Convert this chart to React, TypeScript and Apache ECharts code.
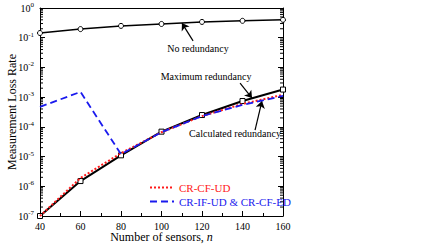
import React, { useEffect, useRef } from "react";
import * as echarts from "echarts";

const sensors = [40, 60, 80, 100, 120, 140, 160];
const noRedundancy = [0.144, 0.195, 0.25, 0.29, 0.34, 0.37, 0.4];
const maxRedundancy = [1e-7, 1.5e-6, 1.1e-5, 6.9e-5, 2.5e-4, 7.4e-4, 1.8e-3];
const crCfUd = [1e-7, 1.9e-6, 1.3e-5, 6.6e-5, 2.3e-4, 5.9e-4, 1.2e-3];
const crIfUd = [4.7e-4, 1.5e-3, 1.2e-5, 6.6e-5, 2.3e-4, 5.5e-4, 1.1e-3];
const yMin = 1e-7;
const yMax = 1;

const FONT = "'Liberation Serif', 'DejaVu Serif', serif";

export default function App() {
  const ref = useRef<HTMLDivElement>(null);
  useEffect(() => {
    if (!ref.current) return;
    const chart = echarts.init(ref.current, null, { renderer: "svg" });

    const minorVals: number[][] = [];
    for (let e = -7; e < 0; e++) {
      for (let m = 2; m <= 9; m++) minorVals.push([40, m * Math.pow(10, e)]);
    }

    const yLabel = (v: number) => {
      const e = Math.round(Math.log10(v));
      return `{b|10}{s|${e}}`;
    };

    const yAxisBase = {
      type: "log" as const,
      logBase: 10,
      min: yMin,
      max: yMax,
      splitNumber: 7,
      splitLine: { show: false },
      axisLine: { show: true, lineStyle: { color: "#000", width: 1 } },
      axisTick: { show: true, inside: true, length: 5, lineStyle: { color: "#000" } },
    };

    chart.setOption({
      animation: false,
      grid: { left: 40, right: 157, top: 8, bottom: 32, outerBoundsMode: "none", containLabel: false },
      textStyle: { fontFamily: FONT },
      legend: {
        orient: "vertical",
        left: 149,
        top: 182,
        itemWidth: 24,
        itemHeight: 10,
        itemGap: 3,
        padding: 0,
        itemStyle: { opacity: 0 },
        textStyle: { fontFamily: FONT, fontSize: 11 },
        data: [
          { name: "CR-CF-UD", textStyle: { color: "#ff1a1a" } },
          { name: "CR-IF-UD & CR-CF-ED", textStyle: { color: "#1a1aee" } },
        ],
      },
      xAxis: [
        {
          type: "value",
          min: 40,
          max: 160,
          interval: 20,
          name: "Number of sensors, {i|n}",
          nameLocation: "middle",
          nameGap: 15,
          nameMoveOverlap: false,
          nameTextStyle: {
            fontFamily: FONT,
            fontSize: 12,
            color: "#000",
            rich: { i: { fontStyle: "italic", fontFamily: FONT, fontSize: 12, color: "#000" } },
          },
          splitLine: { show: false },
          axisLine: { lineStyle: { color: "#000" } },
          axisTick: { inside: true, length: 5, lineStyle: { color: "#000" } },
          minorTick: { show: true, splitNumber: 2, length: 3, lineStyle: { color: "#000" } },
          minorSplitLine: { show: false },
          axisLabel: { color: "#000", fontSize: 10, fontFamily: FONT, margin: 5 },
        },
        {
          type: "value",
          position: "top",
          min: 40,
          max: 160,
          interval: 20,
          splitLine: { show: false },
          axisLine: { show: true, lineStyle: { color: "#000" } },
          axisTick: { show: false },
          axisLabel: { show: false },
        },
      ],
      yAxis: [
        {
          ...yAxisBase,
          position: "left",
          name: "Measurement Loss Rate",
          nameLocation: "middle",
          nameGap: 22,
          nameMoveOverlap: false,
          nameTextStyle: { fontFamily: FONT, fontSize: 12, color: "#000" },
          axisLabel: {
            formatter: yLabel,
            margin: 6,
            rich: {
              b: { fontFamily: FONT, fontSize: 10, color: "#000" },
              s: { fontFamily: FONT, fontSize: 7, color: "#000", verticalAlign: "bottom", padding: [0, 0, 6, 0] },
            },
          },
        },
        {
          ...yAxisBase,
          position: "right",
          axisLabel: { show: false },
        },
      ],
      series: [
        {
          name: "No redundancy",
          type: "line",
          data: sensors.map((x, i) => [x, noRedundancy[i]]),
          symbol: "circle",
          symbolSize: 5,
          itemStyle: { color: "#fff", borderColor: "#000", borderWidth: 1 },
          lineStyle: { color: "#000", width: 1.5 },
          z: 3,
          markLine: {
            silent: true,
            symbol: ["none", "arrow"],
            symbolSize: 7,
            label: { show: false },
            lineStyle: { color: "#000", width: 1.2, type: "solid" },
            data: [
              [{ coord: [115.6, 0.078] }, { coord: [110.1, 0.31] }],
              [{ coord: [138.8, 2.97e-3] }, { coord: [144.7, 9.3e-4] }],
              [{ coord: [146.2, 7.8e-5] }, { coord: [149.6, 7.4e-4] }],
            ],
          },
          markPoint: {
            silent: true,
            symbol: "circle",
            symbolSize: 0,
            label: {
              show: true,
              position: "inside",
              color: "#000",
              fontFamily: FONT,
              fontSize: 10,
              formatter: (p: any) => p.name,
            },
            data: [
              { name: "No redundancy", coord: [118, 0.045] },
              { name: "Maximum redundancy", coord: [122, 5.1e-3] },
              { name: "Calculated redundancy", coord: [136.3, 6.2e-5] },
            ],
          },
        },
        {
          name: "Maximum redundancy",
          type: "line",
          data: sensors.map((x, i) => [x, maxRedundancy[i]]),
          symbol: "rect",
          symbolSize: 5,
          itemStyle: { color: "#fff", borderColor: "#000", borderWidth: 1 },
          lineStyle: { color: "#000", width: 2 },
          z: 2,
        },
        {
          name: "CR-CF-UD",
          type: "line",
          data: sensors.map((x, i) => [x, crCfUd[i]]),
          symbol: "none",
          lineStyle: { color: "#ff1a1a", width: 2, type: [2, 2] },
          itemStyle: { color: "#ff1a1a" },
          z: 4,
        },
        {
          name: "CR-IF-UD & CR-CF-ED",
          type: "line",
          data: sensors.map((x, i) => [x, crIfUd[i]]),
          symbol: "none",
          lineStyle: { color: "#1a1aee", width: 1.8, type: [7, 4] },
          itemStyle: { color: "#1a1aee" },
          z: 5,
        },
        {
          name: "minorTicks",
          type: "custom",
          silent: true,
          data: minorVals,
          renderItem: (params: any, api: any) => {
            const cs = params.coordSys;
            const y = api.coord([40, api.value(1)])[1];
            const style = { stroke: "#000", lineWidth: 1 };
            return {
              type: "group",
              children: [
                { type: "line", shape: { x1: cs.x, y1: y, x2: cs.x + 3, y2: y }, style },
                { type: "line", shape: { x1: cs.x + cs.width - 3, y1: y, x2: cs.x + cs.width, y2: y }, style },
              ],
            };
          },
          z: 1,
        },
      ],
    });
    return () => chart.dispose();
  }, []);
  return (
    <div
      ref={ref}
      style={{ position: "absolute", left: 0, top: 0, width: 440, height: 248 }}
    />
  );
}
